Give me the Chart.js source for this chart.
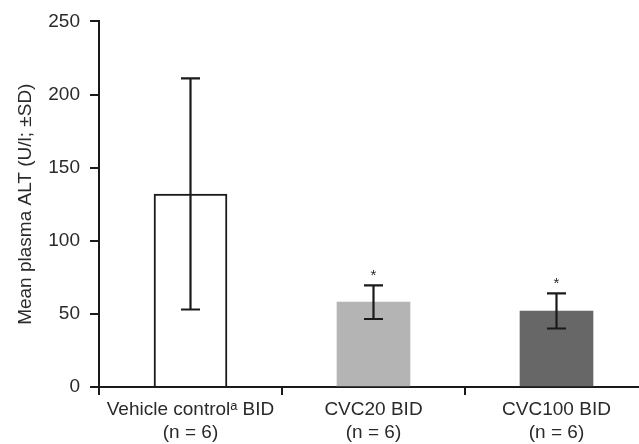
<!DOCTYPE html>
<html><head><meta charset="utf-8">
<script src="https://cdn.jsdelivr.net/npm/chart.js@4"></script>
<style>
html,body{margin:0;padding:0;background:#fff;overflow:hidden;width:639px;height:444px;}
#wrap{width:648px;height:444px;}
</style></head>
<body><div id="wrap"><canvas id="c" width="648" height="444"></canvas></div>
<script>
const groupNames = ['Vehicle control\u1d43 BID', 'CVC20 BID', 'CVC100 BID'];
const groupSizes = ['(n = 6)', '(n = 6)', '(n = 6)'];
const meanALT = [132, 58, 52];
const sdALT = [79, 11.5, 12];
const significance = ['', '*', '*'];
const yTicks = [0, 50, 100, 150, 200, 250];

const labels = groupNames.map((g, i) => [g, groupSizes[i]]);
const FONT = "'Liberation Sans', Arial, sans-serif";
const TXT = '#2a2a2a';

const errorBars = {
  id: 'errorBars',
  afterDatasetsDraw(chart) {
    const ctx = chart.ctx;
    const meta = chart.getDatasetMeta(0);
    const ys = chart.scales.y;
    ctx.save();
    ctx.strokeStyle = '#1a1a1a';
    ctx.lineWidth = 2.2;
    meta.data.forEach((bar, i) => {
      const x = bar.x;
      const top = ys.getPixelForValue(meanALT[i] + sdALT[i]);
      const bot = ys.getPixelForValue(meanALT[i] - sdALT[i]);
      const cap = 9.5;
      ctx.beginPath();
      ctx.moveTo(x, top); ctx.lineTo(x, bot);
      ctx.moveTo(x - cap, top); ctx.lineTo(x + cap, top);
      ctx.moveTo(x - cap, bot); ctx.lineTo(x + cap, bot);
      ctx.stroke();
      if (significance[i]) {
        ctx.fillStyle = TXT;
        ctx.font = '15px ' + FONT;
        ctx.textAlign = 'center';
        ctx.textBaseline = 'bottom';
        ctx.fillText(significance[i], x, top - 2);
      }
    });
    ctx.restore();
  }
};

new Chart(document.getElementById('c'), {
  type: 'bar',
  data: {
    labels: labels,
    datasets: [{
      data: meanALT,
      backgroundColor: ['#ffffff', '#b4b4b4', '#676767'],
      borderColor: ['#1a1a1a', '#b4b4b4', '#676767'],
      borderWidth: [2, 0, 0],
      barThickness: 73
    }]
  },
  options: {
    responsive: false,
    animation: false,
    devicePixelRatio: 1,
    layout: { padding: { top: 17, left: 0, right: 0, bottom: 0 } },
    plugins: { legend: { display: false }, tooltip: { enabled: false } },
    scales: {
      x: {
        grid: { drawOnChartArea: false, drawTicks: true, tickLength: 8, color: '#1a1a1a', lineWidth: 2, offset: true },
        border: { display: true, color: '#1a1a1a', width: 2 },
        ticks: { color: TXT, font: { family: FONT, size: 19, lineHeight: 1.22 }, padding: 3, maxRotation: 0, autoSkip: false },
        afterFit(s) { s.height = 57; }
      },
      y: {
        min: 0, max: 250,
        afterBuildTicks(s) { s.ticks = yTicks.map(v => ({ value: v })); },
        grid: { drawOnChartArea: false, drawTicks: true, tickLength: 9, color: '#1a1a1a', lineWidth: 2 },
        border: { display: true, color: '#1a1a1a', width: 2 },
        ticks: { color: TXT, font: { family: FONT, size: 19 }, padding: 10 },
        title: { display: true, text: 'Mean plasma ALT (U/l; \u00b1SD)', color: TXT, font: { family: FONT, size: 19 }, padding: { top: 14, bottom: 0 } },
        afterFit(s) { s.width = 99; }
      }
    }
  },
  plugins: [errorBars]
});
</script>
</body></html>
